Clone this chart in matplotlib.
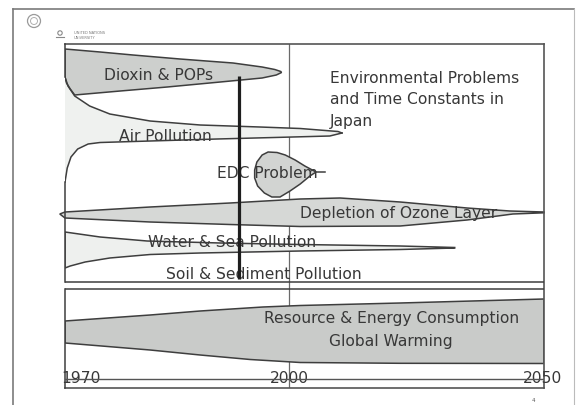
import numpy as np
import matplotlib
matplotlib.use("Agg")
import matplotlib.pyplot as plt
from matplotlib.patches import Circle

W, H = 576, 405

# ---------------- data (years on x, vertical row level on y) ----------------
year_ticks = [1970, 2000, 2050]
tick_labels = ["1970", "2000", "2050"]

dioxin_years = [1970, 1974.7, 1979.1, 1985.4, 1992.5, 1996.4, 1998.1, 1998.9, 1999.0,
                1998.3, 1996.4, 1990.8, 1983.7, 1977.4, 1971.3, 1970.7, 1970.2, 1970]
dioxin_levels = [49, 52, 55, 59, 63, 67, 69.5, 71.5, 72.5,
                 75, 78, 82, 87, 91, 95, 89, 83, 77]

air_top_years = [1970, 1970.4, 1971.3, 1973.3, 1976.0, 1981.4, 1988.1, 1996.1, 2002.2, 2009.6, 2010.4]
air_top_levels = [77, 86, 96, 106, 114, 121, 125, 127, 128.5, 131.5, 133]
air_bot_years = [2010.4, 2008.0, 1998.0, 1990.4, 1981.4, 1974.7, 1973.1, 1971.7, 1970.8, 1970.3, 1970]
air_bot_levels = [133, 136, 137.5, 139, 141, 142.5, 144, 149, 157, 168, 182]

edc_years = [2005.3, 2003.1, 2001.2, 1999.5, 1998.4, 1997.2, 1996.4, 1995.7, 1995.4, 1995.4,
             1995.8, 1996.7, 1997.7, 1998.8, 2000.2, 2002.2, 2004.1]
edc_levels = [172, 166, 160, 155, 152.5, 152, 155, 162, 170, 178,
              186, 193, 197, 197, 191, 184, 176]
edc_tail_years = [2005.3, 2007.1]

ozone_years = [1969.3, 1970, 1981.4, 1992.1, 2002.2, 2010, 2021.8, 2034.9, 2043.3, 2050,
               2050, 2043.9, 2034.9, 2021.8, 2002.2, 1992.1, 1981.4, 1970]
ozone_levels = [214, 212, 207, 203, 199, 198, 202, 208, 211, 212,
                212.8, 214, 220, 226, 226.5, 224.5, 222, 218]

water_years = [1970, 1974.7, 1981.0, 1990.8, 2002.2, 2021.8, 2032.5,
               2032.5, 2021.8, 2002.2, 1988.1, 1981.4, 1976.0, 1972.7, 1970.7, 1970]
water_levels = [232, 237, 241, 243, 244.5, 246, 247.5,
                248, 249.5, 251, 253, 254.5, 258, 262, 266, 268]

resource_years = [1970, 1981.4, 1988.1, 1996.5, 2002.2, 2021.8, 2050,
                  2050, 2021.8, 2002.2, 1994.8, 1988.1, 1981.4, 1970]
resource_levels = [321, 315, 311, 307, 305.5, 303, 299,
                   363.5, 363.3, 362.5, 359.5, 355, 350, 343]

marker_year = 1993.3
marker_span = [76, 279]
left_edge_spans = [(44, 77), (182, 282), (289, 388)]
band_lines = [282, 289]
axis_level = 379

labels = ["Dioxin & POPs", "Air Pollution", "EDC Problem", "Depletion of Ozone Layer",
          "Water & Sea Pollution", "Soil & Sediment Pollution",
          "Resource & Energy Consumption", "Global Warming"]
label_years = [1982.5, 1983.5, 1997.1, 2021.5, 1992.4, 1996.6, 2020.2, 2020.0]
label_baselines = [80, 141, 178, 218, 247, 279, 323, 346]

title_lines = ["Environmental Problems", "and Time Constants in", "Japan"]
title_year = 2008.0
title_baselines = [83, 104.5, 126]

tick_positions = [1972.2, 2000, 2049.7]
tick_baseline = 383

# ---------------- figure ----------------
fig = plt.figure(figsize=(W / 100, H / 100), dpi=100)
fig.patch.set_facecolor("white")

# decoration overlay in pixel units
deco = fig.add_axes([0, 0, 1, 1])
deco.set_xlim(0, W)
deco.set_ylim(H, 0)
deco.axis("off")
fc = "#7a7a7a"
deco.plot([13, 574], [9, 9], color=fc, lw=1.2)
deco.plot([13, 13], [9, 405], color=fc, lw=1.2)
deco.plot([574, 574], [9, 405], color="#bbbbbb", lw=0.8)
deco.add_patch(Circle((34, 21), 6.5, fill=False, ec="#9a9a9a", lw=0.9))
deco.add_patch(Circle((34, 21), 3.5, fill=False, ec="#b0b0b0", lw=0.7))
deco.add_patch(Circle((60, 33), 2.2, fill=False, ec="#888888", lw=0.8))
deco.plot([56, 64], [37, 37], color="#888888", lw=0.8)
deco.text(74, 35.5, "UNITED NATIONS\nUNIVERSITY", fontsize=2.6, color="#777777",
          va="center", ha="left", linespacing=1.1)
deco.text(533, 400, "4", fontsize=4, color="#555555", ha="center", va="center")

# main diagram axes
L, R, T, B = 65, 544, 44, 388
ax = fig.add_axes([L / W, 1 - B / H, (R - L) / W, (B - T) / H])
ax.set_facecolor("none")

A = 224 / 479


def fwd(x):
    x = np.asarray(x, float)
    return np.where(x <= 2000, (x - 1970) / 30 * A, A + (x - 2000) / 50 * (1 - A))


def inv(u):
    u = np.asarray(u, float)
    return np.where(u <= A, 1970 + u / A * 30, 2000 + (u - A) / (1 - A) * 50)


ax.set_xscale("function", functions=(fwd, inv))
ax.set_xlim(1970, 2050)
ax.set_ylim(B, T)
ax.set_xticks([])
ax.set_yticks([])
for s in ["top", "right", "bottom"]:
    ax.spines[s].set_color("#555555")
    ax.spines[s].set_linewidth(1.2)
ax.spines["left"].set_visible(False)

edge = "#3e3e3e"
elw = 1.1

ax.axvline(2000, color="#6a6a6a", lw=0.9, zorder=1)
for a, b in left_edge_spans:
    ax.plot([1970, 1970], [a, b], color=edge, lw=elw, zorder=4, clip_on=False)
for lv in band_lines:
    ax.axhline(lv, color=edge, lw=elw, zorder=4)
ax.axhline(axis_level, color="#555555", lw=1.0, zorder=4)

# air pollution (light region, open on the left)
ax.fill(air_top_years + air_bot_years, air_top_levels + air_bot_levels,
        color="#eff1ef", lw=0, zorder=1.5)
ax.plot(air_top_years, air_top_levels, color=edge, lw=elw, zorder=4)
ax.plot(air_bot_years, air_bot_levels, color=edge, lw=elw, zorder=4)

ax.fill(dioxin_years, dioxin_levels, facecolor="#cdcfcd", edgecolor=edge, lw=elw, zorder=2)
ax.fill(ozone_years, ozone_levels, facecolor="#d6d8d6", edgecolor=edge, lw=elw,
        zorder=2, clip_on=False)
ax.fill(edc_years, edc_levels, facecolor="#d2d4d2", edgecolor=edge, lw=elw, zorder=2)
ax.plot(edc_tail_years, [edc_levels[0]] * 2, color=edge, lw=elw, zorder=4)
ax.fill(water_years, water_levels, facecolor="#eef0ee", edgecolor=edge, lw=elw, zorder=2)
ax.fill(resource_years, resource_levels, facecolor="#c9cbc9", edgecolor=edge, lw=elw, zorder=2)

tc = "#383838"
fs = 11.2
for txt, xy, lv in zip(labels, label_years, label_baselines):
    ax.text(xy, lv, txt, ha="center", va="baseline", fontsize=fs, color=tc, zorder=3)

for txt, lv in zip(title_lines, title_baselines):
    ax.text(title_year, lv, txt, ha="left", va="baseline", fontsize=fs, color=tc, zorder=3)

# year labels
for yx, lab in zip(tick_positions, tick_labels):
    ax.text(yx, tick_baseline, lab, ha="center", va="baseline", fontsize=fs, color=tc,
            zorder=3, clip_on=False)

# thick marker line
ax.plot([marker_year, marker_year], marker_span, color="#1e1e1e", lw=2.3, zorder=6,
        solid_capstyle="butt")

fig.savefig("out.png", dpi=100, facecolor="white")
